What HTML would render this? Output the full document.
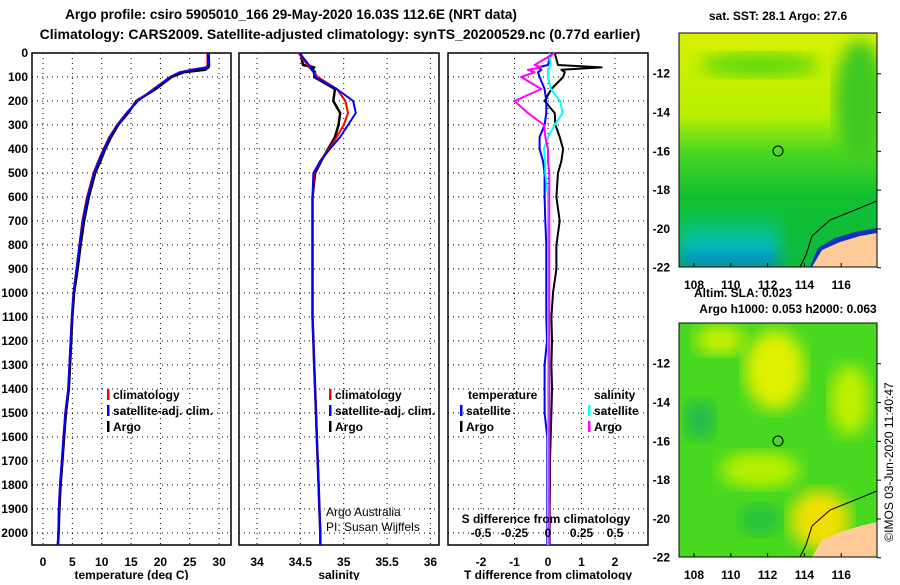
<!DOCTYPE html>
<html><head><meta charset="utf-8"><style>
body{margin:0;background:#fff;width:900px;height:580px;overflow:hidden;font-family:"Liberation Sans",sans-serif}
svg text{font-family:"Liberation Sans",sans-serif;font-weight:bold;font-size:12px;fill:#000}
</style></head><body>
<svg id="c" width="900" height="580" xmlns="http://www.w3.org/2000/svg">
<defs>
<linearGradient id="g1" x1="0" y1="0" x2="0" y2="1">
<stop offset="0" stop-color="#d8f000"/><stop offset="0.35" stop-color="#b8f000"/><stop offset="0.5" stop-color="#50d820"/><stop offset="0.7" stop-color="#10c030"/><stop offset="1" stop-color="#10b840"/></linearGradient>
<linearGradient id="g1b" x1="0" y1="0" x2="0" y2="1"><stop offset="0" stop-color="#00c8c8" stop-opacity="0"/><stop offset="0.6" stop-color="#00c8d8" stop-opacity="0.8"/><stop offset="1" stop-color="#0060e0"/></linearGradient>
<filter id="bl"><feGaussianBlur stdDeviation="8"/></filter>
<clipPath id="cm1"><rect x="679" y="33" width="198" height="234"/></clipPath>
<clipPath id="cm2"><rect x="679" y="323" width="198" height="234"/></clipPath>
</defs>
<text x="291" y="19" text-anchor="middle" style="font-size:13.5px">Argo profile: csiro 5905010_166 29-May-2020 16.03S 112.6E (NRT data)</text>
<text x="340" y="39" text-anchor="middle" style="font-size:14px">Climatology: CARS2009. Satellite-adjusted climatology: synTS_20200529.nc (0.77d earlier)</text>
<g id="p1"></g>
<g id="p2"></g>
<g id="p3"></g>
<g>
<text x="778" y="20" text-anchor="middle">sat. SST: 28.1  Argo: 27.6</text>
<g clip-path="url(#cm1)">
<rect x="679" y="33" width="198" height="234" fill="url(#g1)"/>
<ellipse cx="760" cy="65" rx="60" ry="12" fill="#60d810" filter="url(#bl)"/>
<ellipse cx="860" cy="100" rx="25" ry="60" fill="#40c820" filter="url(#bl)"/>
<rect x="679" y="210" width="100" height="57" fill="url(#g1b)" filter="url(#bl)"/>
<path d="M810,267 L818,248 L835,238 L855,232 L877,228 L877,267Z" fill="#1030c0"/>
<path d="M812,267 L822,250 L840,242 L860,236 L877,233 L877,267Z" fill="#ffcc99"/>
<path d="M800,267 L806,255 L812,236 L830,220 L855,210 L877,201" fill="none" stroke="#000" stroke-width="1"/>
</g>
<rect x="679" y="33" width="198" height="234" fill="none" stroke="#000"/>
<circle cx="778" cy="151" r="5" fill="none" stroke="#000"/>
<g id="m1ax"></g>
</g>
<g>
<text x="743" y="297" text-anchor="middle">Altim. SLA: 0.023</text>
<text x="788" y="313" text-anchor="middle">Argo h1000: 0.053 h2000: 0.063</text>
<g clip-path="url(#cm2)">
<rect x="679" y="323" width="198" height="234" fill="#48d820"/>
<ellipse cx="775" cy="370" rx="30" ry="40" fill="#e0f000" filter="url(#bl)"/>
<ellipse cx="720" cy="340" rx="25" ry="15" fill="#c8f000" filter="url(#bl)"/>
<ellipse cx="850" cy="400" rx="20" ry="35" fill="#c0f000" filter="url(#bl)"/>
<ellipse cx="760" cy="470" rx="40" ry="18" fill="#b8f000" filter="url(#bl)"/>
<ellipse cx="820" cy="520" rx="30" ry="30" fill="#f0e000" filter="url(#bl)"/>
<ellipse cx="700" cy="420" rx="15" ry="20" fill="#20b850" filter="url(#bl)"/>
<ellipse cx="760" cy="520" rx="20" ry="15" fill="#20c040" filter="url(#bl)"/>
<path d="M812,557 L822,540 L840,532 L860,526 L877,522 L877,557Z" fill="#ffcc99"/>
<path d="M800,557 L806,545 L812,526 L830,510 L855,500 L877,491" fill="none" stroke="#000"/>
</g>
<rect x="679" y="323" width="198" height="234" fill="none" stroke="#000"/>
<circle cx="778" cy="441" r="5" fill="none" stroke="#000"/>
<g id="m2ax"></g>
</g>
<text transform="translate(893,462) rotate(-90)" text-anchor="middle" style="font-weight:normal">©IMOS 03-Jun-2020 11:40:47</text>
</svg>
<script>
const depths   = [0,50,60,70,80,100,150,200,250,300,350,400,450,500,600,700,800,900,1000,1100,1200,1300,1400,1500,1600,1700,1800,1900,2000,2050];
const tempClim = [28,28,27.8,25.2,23.3,21.6,18.8,16.1,14.2,12.6,11.3,10.3,9.4,8.6,7.5,6.7,6.2,5.7,5.2,4.9,4.7,4.5,4.3,3.8,3.5,3.2,2.9,2.7,2.6,2.5];
const tempSat  = [28.1,28.1,27.9,25.4,23.4,21.7,18.9,16.2,14.3,12.7,11.4,10.4,9.5,8.7,7.6,6.8,6.2,5.7,5.2,4.9,4.7,4.5,4.3,3.8,3.5,3.2,2.9,2.7,2.6,2.5];
const tempArgo = [28.2,28.3,28.2,27.6,24,21.9,19.2,15.9,14.5,12.8,11.6,10.6,9.8,8.9,7.8,7,6.4,5.9,5.3,5,4.8,4.6,4.4,3.9,3.6,3.3,3,2.8,2.65,2.55];
const salClim  = [34.48,34.58,34.6,34.63,34.66,34.7,34.92,35.02,35.05,35.0,34.92,34.83,34.73,34.66,34.64,34.64,34.64,34.64,34.64,34.64,34.65,34.66,34.67,34.68,34.69,34.7,34.71,34.72,34.73,34.73];
const salSat   = [34.49,34.6,34.62,34.63,34.65,34.67,34.92,35.11,35.14,35.05,34.96,34.84,34.73,34.65,34.64,34.64,34.64,34.64,34.64,34.64,34.65,34.66,34.67,34.68,34.69,34.7,34.71,34.72,34.73,34.73];
const salArgo  = [34.5,34.53,34.66,34.64,34.67,34.66,34.9,34.88,34.96,34.94,34.9,34.82,34.74,34.67,34.64,34.64,34.64,34.64,34.64,34.64,34.65,34.66,34.67,34.68,34.69,34.7,34.71,34.72,34.73,34.73];
const tdArgo   = [0.2,0.3,1.6,0.4,0.5,0.45,0.1,-0.1,0.2,0.22,0.35,0.45,0.4,0.3,0.25,0.35,0.25,0.25,0.15,0.1,0.12,0.1,0.12,0.1,0.08,0.06,0.06,0.05,0.05,0.05];
const tdSat    = [0.1,0.0,-0.3,-0.2,-0.3,-0.25,-0.1,-0.05,-0.05,-0.1,-0.25,-0.25,-0.15,-0.1,-0.1,-0.08,-0.05,-0.05,-0.05,-0.05,-0.03,-0.1,-0.1,-0.1,-0.02,-0.02,-0.02,-0.02,-0.02,-0.02];
const sdArgo   = [0.05,-0.1,-0.05,-0.15,-0.1,-0.2,-0.05,-0.25,-0.15,-0.03,-0.02,0.0,0.0,0.01,0.01,0.01,0.01,0.01,0.01,0.01,0.01,0.01,0.01,0.01,0.01,0.01,0.01,0.01,0.01,0.01];
const sdSat    = [0.01,0.02,0.01,0.0,0.0,0.0,0.02,0.09,0.11,0.05,0.0,-0.03,-0.02,-0.02,0.0,0.0,0.0,0.0,0.0,0.0,0.0,0.0,0.0,0.0,0.0,0.0,0.0,0.0,0.0,0.0];
const depthTicks = [0,100,200,300,400,500,600,700,800,900,1000,1100,1200,1300,1400,1500,1600,1700,1800,1900,2000];
const tempTicks = [0,5,10,15,20,25,30];
const salTicks = [34,34.5,35,35.5,36];
const tdTicks = [-2,-1,0,1,2];
const sdTickLabels = ["-0.5","-0.25","0","0.25","0.5"];
const lonTicks=[108,110,112,114,116];
const lat1Ticks=[-12,-14,-16,-18,-20,-22];
const lat2Ticks=[-12,-14,-16,-18,-20,-22];

const NS="http://www.w3.org/2000/svg";
const yD = d => 53 + d*0.24;
function el(tag, attrs, parent, txt){const e=document.createElementNS(NS,tag);for(const k in attrs)e.setAttribute(k,attrs[k]);if(txt!==undefined)e.textContent=txt;parent.appendChild(e);return e;}
function panel(g, x0, x1, xs, ticks, labels, title, yLabels){
  for(const d of depthTicks){
    const l=el('line',{x1:x0,x2:x1,y1:yD(d),y2:yD(d),stroke:'#000','stroke-dasharray':'1,4'},g);
    
    
    if(yLabels){const t=el('text',{x:28,y:yD(d)+4,'text-anchor':'end'},g,d);
      
      }
  }
  ticks.forEach((v,i)=>{
    const l=el('line',{x1:xs(v),x2:xs(v),y1:53,y2:545,stroke:'#000','stroke-dasharray':'1,4'},g);
    
    
    const t=el('text',{x:xs(v),y:566,'text-anchor':'middle'},g,labels[i]);
    
    
  });
  const t=el('text',{x:(x0+x1)/2,y:579,'text-anchor':'middle'},g,title);
  
  
  const r=el('rect',{x:x0,y:53,width:x1-x0,height:492,fill:'none',stroke:'#000','stroke-width':1.5},g);
  
  
}
function line(g, xs, vals, color, w, name){
  const d=vals.map((v,i)=>(i?'L':'M')+xs(v).toFixed(1)+','+yD(depths[i]).toFixed(1)).join('');
  const p=el('path',{d:d,fill:'none',stroke:color,'stroke-width':w,'stroke-linejoin':'round'},g);
  
  
}
function legend(g,x,y,items){
  items.forEach((it,i)=>{
    const r=el('rect',{x:x,y:y+i*16-10,width:2.5,height:11,fill:it[0]},g);
    
    
    const t=el('text',{x:x+6,y:y+i*16},g,it[1]);
    
    
  });
}
const p1=document.getElementById('p1'),p2=document.getElementById('p2'),p3=document.getElementById('p3');
const xT=v=>43+v*5.87, xS=v=>257+(v-34)*86.7, xTd=v=>548+v*33.5, xSd=v=>548+v*4*33.5;
panel(p1,32,231,xT,tempTicks,tempTicks,'temperature (deg C)',true);
line(p1,xT,tempArgo,'#000',2.5,'argo-temperature-line');
line(p1,xT,tempClim,'#f00',2,'climatology-temperature-line');
line(p1,xT,tempSat,'#00f',2,'satellite-temperature-line');
legend(p1,107,399,[['#f00','climatology'],['#00f','satellite-adj. clim.'],['#000','Argo']]);
panel(p2,239,439,xS,salTicks,salTicks,'salinity',false);
line(p2,xS,salArgo,'#000',2.5,'argo-salinity-line');
line(p2,xS,salClim,'#f00',2,'climatology-salinity-line');
line(p2,xS,salSat,'#00f',2,'satellite-salinity-line');
legend(p2,329,399,[['#f00','climatology'],['#00f','satellite-adj. clim.'],['#000','Argo']]);
const a1=el('text',{x:326,y:516,style:'font-weight:normal'},p2,'Argo Australia');


const a2=el('text',{x:326,y:531,style:'font-weight:normal'},p2,'PI: Susan Wijffels');


panel(p3,448,648,xTd,tdTicks,tdTicks,'T difference from climatology',false);
line(p3,xTd,tdArgo,'#000',2,'argo-t-diff-line');
line(p3,xTd,tdSat,'#00f',2,'satellite-t-diff-line');
line(p3,xSd,sdSat,'#0ff',2,'satellite-s-diff-line');
line(p3,xSd,sdArgo,'#f0f',2,'argo-s-diff-line');
const th=el('text',{x:468,y:399},p3,'temperature');
const sh=el('text',{x:594,y:399},p3,'salinity');
legend(p3,460,415,[['#00f','satellite'],['#000','Argo']]);
legend(p3,588,415,[['#0ff','satellite'],['#f0f','Argo']]);
const st=el('text',{x:546,y:523,'text-anchor':'middle'},p3,'S difference from climatology');
[-0.5,-0.25,0,0.25,0.5].forEach((v,i)=>{const t=el('text',{x:xSd(v),y:537,'text-anchor':'middle'},p3,sdTickLabels[i]);

});
function mapAxes(id,top,lats){
  const g=document.getElementById(id);
  const xL=v=>694+(v-108)*18.4, yL=v=>top+(-9.9-v)*19.4;
  lonTicks.forEach(v=>{const t=el('text',{x:xL(v),y:top+256,'text-anchor':'middle'},g,v);
    
    
    el('line',{x1:xL(v),x2:xL(v),y1:top+234,y2:top+230,stroke:'#000'},g);});
  lats.forEach(v=>{const t=el('text',{x:670,y:yL(v)+4,'text-anchor':'end'},g,v);
    
    
    el('line',{x1:877,x2:881,y1:yL(v),y2:yL(v),stroke:'#000'},g);});
}
mapAxes('m1ax',33,lat1Ticks);
mapAxes('m2ax',323,lat2Ticks);
</script>
</body></html>
